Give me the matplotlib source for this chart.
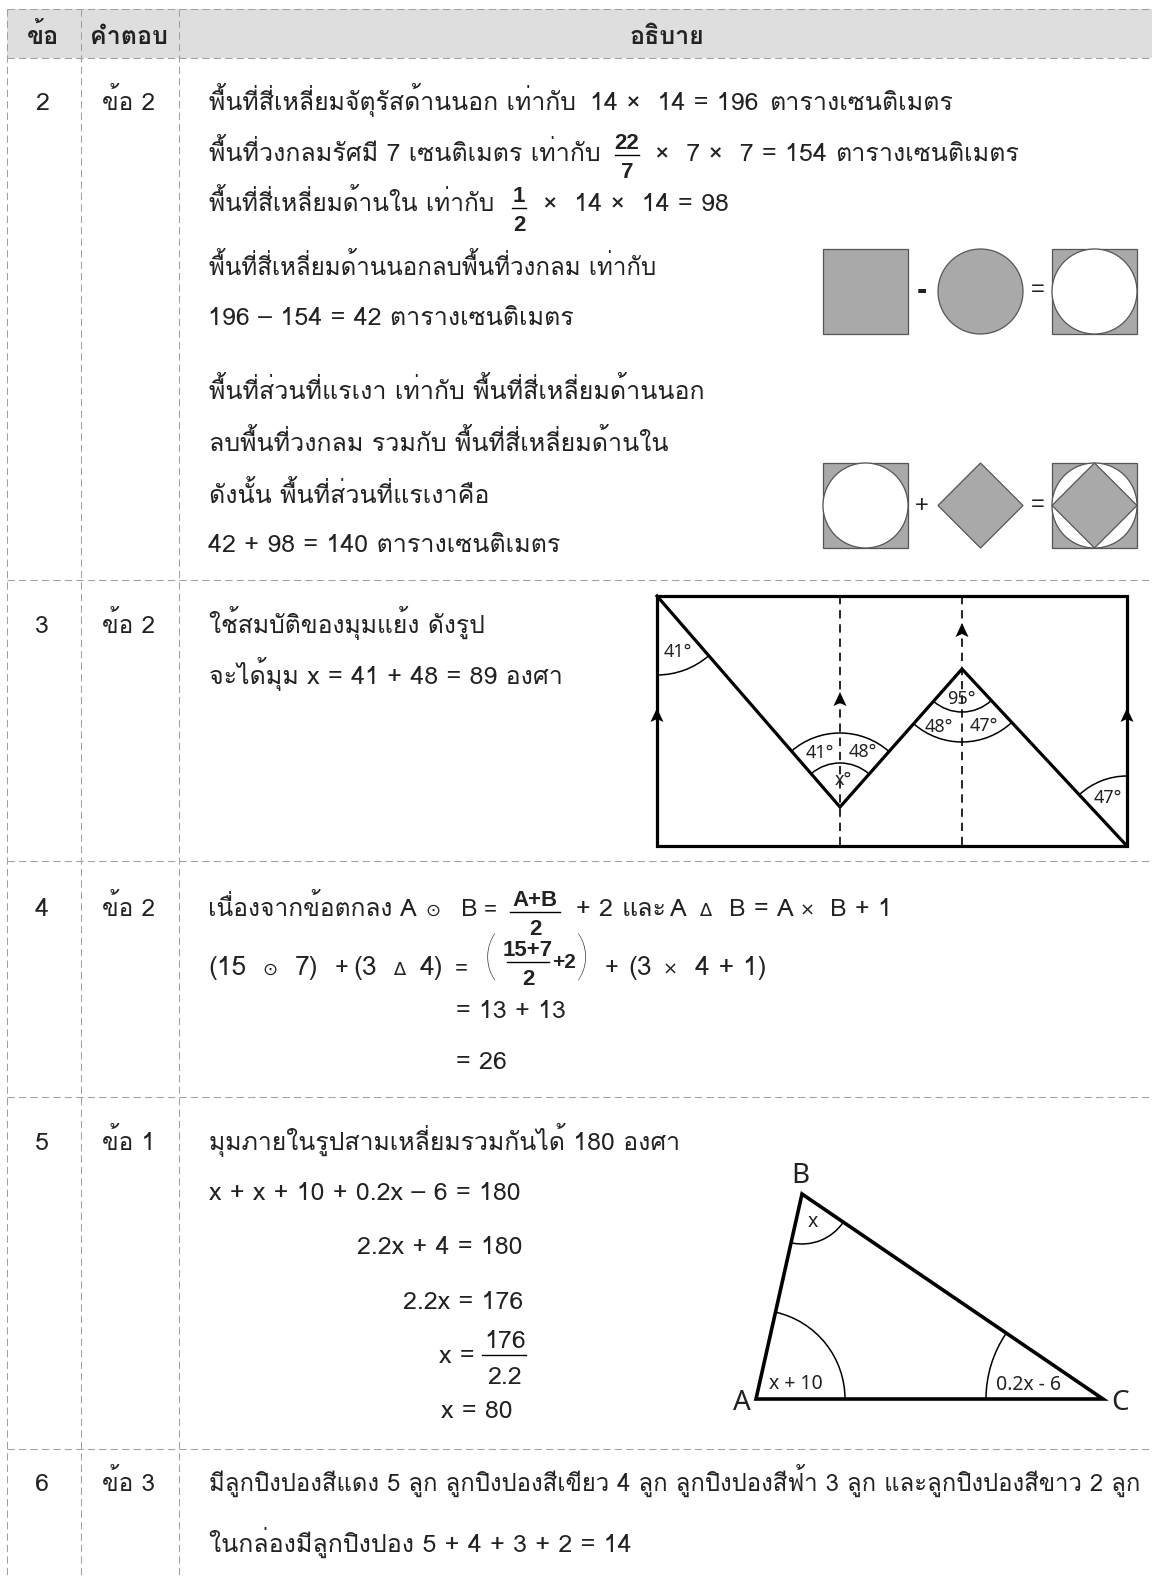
import matplotlib
matplotlib.use('Agg')
import matplotlib.pyplot as plt
from matplotlib.patches import Rectangle, Circle, Polygon, Arc

GRID = '#a0a0a0'
HEADER_BG = '#dedede'
SHAPE = '#a9a9a9'
EDGE = '#555555'
TEXT = '#222222'
THAI = ['Loma', 'Noto Sans Thai', 'DejaVu Sans']
MATH = ['Liberation Sans', 'DejaVu Sans']
SYM = ['DejaVu Sans']
FIGF = ['Noto Sans', 'DejaVu Sans']
LIGHT = ['Lato', 'DejaVu Sans']
FS = 18

header_labels = ['ข้อ', 'คำตอบ', 'อธิบาย']
header_x = [43, 129, 667]
question_numbers = ['2', '3', '4', '5', '6']
answers = ['ข้อ 2', 'ข้อ 2', 'ข้อ 2', 'ข้อ 1', 'ข้อ 3']
number_base = [110, 633, 916, 1150, 1491]
# text, x, baseline, font size
body_lines = [
    ('พื้นที่สี่เหลี่ยมจัตุรัสด้านนอก เท่ากับ', 209, 110, 17.9),
    ('14 ×  14 = 196', 590, 110, 18),
    ('ตารางเซนติเมตร', 769, 110, 18),
    ('พื้นที่วงกลมรัศมี 7 เซนติเมตร เท่ากับ', 209, 161, 18),
    ('×  7 ×  7 = 154', 655, 161, 18),
    ('ตารางเซนติเมตร', 835, 161, 18),
    ('พื้นที่สี่เหลี่ยมด้านใน เท่ากับ', 209, 211, 17.6),
    ('×  14 ×  14 = 98', 543, 211, 18),
    ('พื้นที่สี่เหลี่ยมด้านนอกลบพื้นที่วงกลม เท่ากับ', 209, 275, 17.3),
    ('196 – 154 = 42 ตารางเซนติเมตร', 208, 325, 18),
    ('พื้นที่ส่วนที่แรเงา เท่ากับ พื้นที่สี่เหลี่ยมด้านนอก', 209, 399, 18),
    ('ลบพื้นที่วงกลม รวมกับ พื้นที่สี่เหลี่ยมด้านใน', 209, 451, 18),
    ('ดังนั้น พื้นที่ส่วนที่แรเงาคือ', 209, 503, 18),
    ('42 + 98 = 140 ตารางเซนติเมตร', 208, 552, 18),
    ('ใช้สมบัติของมุมแย้ง ดังรูป', 209, 633, 17.8),
    ('จะได้มุม x = 41 + 48 = 89 องศา', 209, 684, 18),
    ('เนื่องจากข้อตกลง', 208, 916, 17.7),
    ('A', 400, 916, 18), ('B', 461, 916, 18), ('=', 484, 916, 16),
    ('+ 2', 576, 916, 18), ('และ', 622, 916, 18), ('A', 670, 916, 18),
    ('B = A', 729, 916, 18), ('B + 1', 830, 916, 18),
    ('(15', 208, 975, 19), ('7)', 295, 975, 19), ('+', 335, 975, 17), ('(3', 353, 975, 19), ('4)', 420, 975, 19),
    ('=', 455, 975, 16), ('+', 605, 975, 17), ('(3', 628, 975, 19), ('4 + 1)', 695, 975, 19),
    ('= 13 + 13', 456, 1018, 18),
    ('= 26', 456, 1069, 18),
    ('มุมภายในรูปสามเหลี่ยมรวมกันได้ 180 องศา', 209, 1150, 17.9),
    ('x + x + 10 + 0.2x – 6 = 180', 209, 1200, 18),
    ('2.2x + 4 = 180', 357, 1254, 18),
    ('2.2x = 176', 403, 1309, 18),
    ('x =', 439, 1363, 18),
    ('176', 484, 1348, 18),
    ('2.2', 487, 1384, 18),
    ('x = 80', 441, 1418, 18),
    ('มีลูกปิงปองสีแดง 5 ลูก ลูกปิงปองสีเขียว 4 ลูก ลูกปิงปองสีฟ้า 3 ลูก และลูกปิงปองสีขาว 2 ลูก', 209, 1491, 17.2),
    ('ในกล่องมีลูกปิงปอง 5 + 4 + 3 + 2 = 14', 209, 1552, 18),
]
# small operator signs: text, centre x, baseline
small_signs = [('⊙', 433, 916), ('∆', 705, 916), ('×', 807, 916), ('⊙', 270, 975), ('∆', 399, 975), ('×', 670, 975)]
# top, bottom, centre x, bar y, bar half width
fractions = [('22', '7', 627, 155, 12), ('1', '2', 519, 208, 7), ('A+B', '2', 535, 912, 25), ('15+7', '2', 528, 962, 21)]
row_lines = [58, 580, 861, 1097, 1449]
col_lines = [7, 81, 179]
figure_angle_labels = [('41°', 678, 652), ('41°', 820, 753), ('48°', 863, 752), ('x°', 843, 780), ('95°', 961, 699),
                       ('48°', 939, 727), ('47°', 984, 726), ('47°', 1108, 798)]
triangle_labels = [('x', 813, 1222), ('x + 10', 796, 1384), ('0.2x - 6', 1029, 1385)]
triangle_vertices = [('A', 742, 1403), ('B', 800, 1176), ('C', 1120, 1403)]

fig = plt.figure(figsize=(11.52, 15.76), dpi=100, facecolor='white')
ax = fig.add_axes([0, 0, 1, 1])
ax.set_xlim(0, 1152); ax.set_ylim(1576, 0); ax.axis('off')

ax.add_patch(Rectangle((7, 9), 1145, 49, fc=HEADER_BG, ec='none', zorder=0))
dash = dict(color=GRID, lw=0.75, ls=(0, (7, 4)), zorder=1)
ax.plot([7, 1152], [9, 9], **dash)
for y in row_lines:
    ax.plot([7, 1152], [y, y], **dash)
for x in col_lines:
    ax.plot([x, x], [9, 1576], **dash)

def T(x, y, s, fam=THAI, fs=FS, ha='left', va='baseline', **kw):
    return ax.text(x, y, s, family=fam, fontsize=fs, ha=ha, va=va, color=TEXT, zorder=5, **kw)

for label, x in zip(header_labels, header_x):
    T(x, 44, label, ha='center', fontweight='bold', fs=18)
for n, a, y in zip(question_numbers, answers, number_base):
    T(42, y, n, ha='center', fs=18)
    T(129, y, a, ha='center', fs=17.6)
for s, x, y, fs in body_lines:
    T(x, y, s, fs=fs)
for s, x, y in small_signs:
    T(x, y, s, fam=SYM, fs=13, ha='center')

for top, bot, cx, y, hw in fractions:
    T(cx, y - 6, top, fam=MATH, ha='center', fontweight='bold', fs=16)
    T(cx, y + 23, bot, fam=MATH, ha='center', fontweight='bold', fs=16)
    ax.plot([cx - hw, cx + hw], [y, y], color='black', lw=1, zorder=5)
ax.plot([482, 526], [1355, 1355], color='black', lw=1, zorder=5)
T(552, 968, '+2', fam=MATH, fontweight='bold', fs=15)
T(484, 960, '(', fam=LIGHT, fs=38, va='center', fontweight='light')
T(576, 960, ')', fam=LIGHT, fs=38, va='center', fontweight='light')

def square(x, y, s=85):
    ax.add_patch(Rectangle((x, y), s, s, fc=SHAPE, ec=EDGE, lw=0.9, zorder=3))
def circle(x, y, s=85, fc='white'):
    ax.add_patch(Circle((x + s / 2, y + s / 2), s / 2, fc=fc, ec=EDGE, lw=0.9, zorder=4))
def diamond(x, y, s=85):
    ax.add_patch(Polygon([(x + s / 2, y), (x + s, y + s / 2), (x + s / 2, y + s), (x, y + s / 2)],
                         fc=SHAPE, ec=EDGE, lw=0.9, zorder=4.5))
square(823, 249); circle(938, 249, fc=SHAPE); square(1052, 249); circle(1052, 249)
square(823, 463); circle(823, 463); diamond(938, 463); square(1052, 463); circle(1052, 463); diamond(1052, 463)
T(922, 291, '-', fam=MATH, fs=22, ha='center', va='center', fontweight='bold')
T(1038, 290, '=', fam=MATH, fs=17, ha='center', va='center')
T(922, 506, '+', fam=MATH, fs=17, ha='center', va='center')
T(1038, 505, '=', fam=MATH, fs=17, ha='center', va='center')

L, R, Top, Bot = 657, 1127, 596, 846
ax.add_patch(Rectangle((L, Top), R - L, Bot - Top, fc='none', ec='black', lw=2.3, zorder=3))
ax.plot([L, 840, 962, R], [Top, 807, 669, Bot], color='black', lw=2.3, zorder=3, solid_joinstyle='miter')
for x in [840, 962]:
    ax.plot([x, x], [Top, Bot], color='black', lw=1.2, ls=(0, (5, 3.5)), zorder=2)
for x, y in [(840, 692), (962, 623), (657, 708), (1127, 708)]:
    ax.add_patch(Polygon([(x, y), (x - 6.5, y + 14), (x, y + 11), (x + 6.5, y + 14)], fc='black', ec='none', zorder=4))
def arc_at(cx, cy, r, t1, t2):
    ax.add_patch(Arc((cx, cy), 2 * r, 2 * r, theta1=t1, theta2=t2, color='black', lw=1.1, zorder=3))
arc_at(657, 596, 79, 49, 90)
arc_at(840, 807, 44, 229, 311.5)
arc_at(840, 807, 74, 229, 311.5)
arc_at(962, 669, 43, 47, 131.5)
arc_at(962, 669, 73, 47, 131.5)
arc_at(1127, 846, 70, 227, 270)
for s, x, y in figure_angle_labels:
    T(x, y, s, fam=FIGF, fs=13, ha='center', va='center')

A, B, C = (756, 1399), (802, 1194), (1103, 1399)
ax.add_patch(Polygon([A, B, C], closed=True, fc='none', ec='black', lw=2.6, zorder=3, joinstyle='miter'))
arc_at(756, 1399, 89, -77, 0)
arc_at(1103, 1399, 117, 180, 214)
arc_at(802, 1194, 50, 34, 102)
for s, x, y in triangle_labels:
    T(x, y, s, fam=FIGF, fs=14, ha='center', va='center')
for s, x, y in triangle_vertices:
    T(x, y, s, fam=FIGF, fs=20, ha='center', va='center')

fig.savefig('out.png', dpi=100, facecolor='white')
